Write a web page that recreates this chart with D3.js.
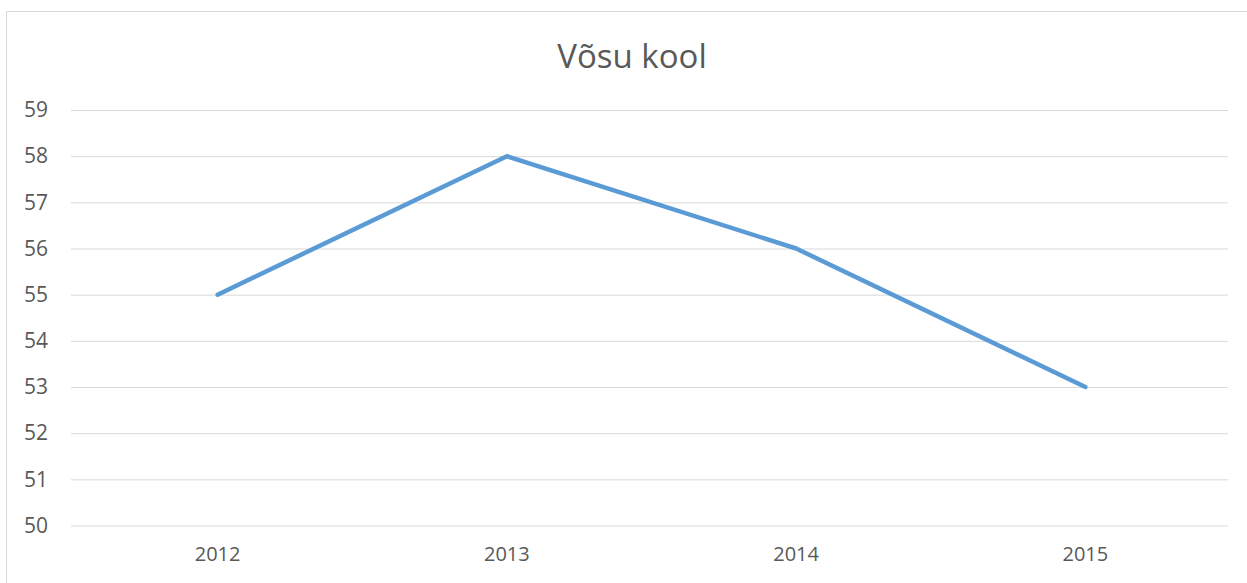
<!DOCTYPE html>
<html>
<head>
<meta charset="utf-8">
<script src="https://cdn.jsdelivr.net/npm/d3@7"></script>
<style>
	body { margin: 0; background: #fff; }
	svg text { font-family: "Open Sans", "Noto Sans", sans-serif; fill: #595959; }
</style>
</head>
<body>
<div id="chart"></div>
<script>
'use strict';

let years = ['2012', '2013', '2014', '2015'];
let values = [55, 58, 56, 53];
let yTicks = [50, 51, 52, 53, 54, 55, 56, 57, 58, 59];
let title = 'Võsu kool';

let W = 1247, H = 583;
let svg = d3.select('#chart')
	.append('svg')
		.attr('width', W)
		.attr('height', H)
	;

// chart frame (runs past the right and bottom edge)
svg.append('rect')
	.attr('x', 6.5).attr('y', 11.5)
	.attr('width', 1260).attr('height', 600)
	.attr('fill', 'none')
	.attr('stroke', '#d9d9d9')
	.attr('stroke-width', 1)
	;

let x = d3.scaleBand().domain(years).range([73, 1230]);
let y = d3.scaleLinear().domain([50, 59]).range([525.5, 110]);

svg.append('text')
	.attr('x', 632).attr('y', 68)
	.attr('text-anchor', 'middle')
	.style('font-size', '33px')
	.text(title)
	;

let grid = svg.append('g')
	.attr('transform', 'translate(71,0)')
	.call(d3.axisLeft(y).tickValues(yTicks).tickSize(-1157).tickPadding(23).tickFormat(d3.format('d')))
	;
grid.select('.domain').remove();
grid.selectAll('.tick line').attr('stroke', '#d9d9d9').attr('stroke-width', 1);
grid.selectAll('.tick text').style('font-size', '21px').attr('fill', '#595959');

let xa = svg.append('g')
	.attr('transform', 'translate(0,525.5)')
	.call(d3.axisBottom(x).tickSize(0).tickPadding(21))
	;
xa.select('.domain').remove();
xa.selectAll('.tick text').style('font-size', '20px').attr('fill', '#595959');

let line = d3.line()
	.x((d, i) => x(years[i]) + x.bandwidth()/2)
	.y(d => y(d))
	;

svg.append('path')
	.datum(values)
	.attr('d', line)
	.attr('fill', 'none')
	.attr('stroke', '#5b9bd5')
	.attr('stroke-width', 4.5)
	.attr('stroke-linejoin', 'round')
	.attr('stroke-linecap', 'round')
	;
</script>
</body>
</html>
